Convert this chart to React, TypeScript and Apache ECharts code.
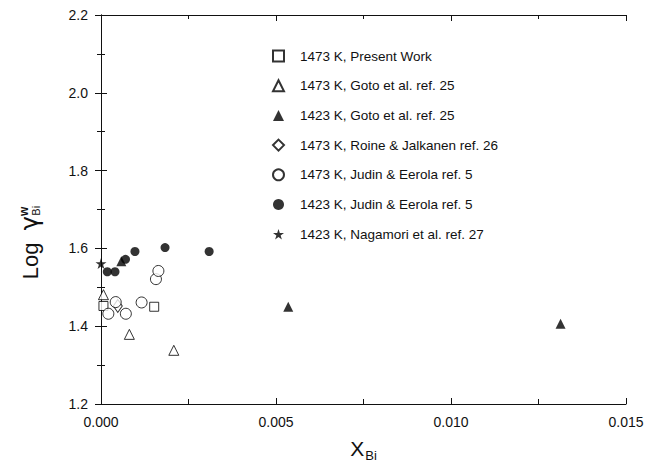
import React, { useEffect, useRef } from "react";
import * as echarts from "echarts";

const seriesNames = [
  "1473 K, Present Work",
  "1473 K, Goto et al. ref. 25",
  "1423 K, Goto et al. ref. 25",
  "1473 K, Roine & Jalkanen ref. 26",
  "1473 K, Judin & Eerola ref. 5",
  "1423 K, Judin & Eerola ref. 5",
  "1423 K, Nagamori et al. ref. 27",
];

const presentWork = [
  [0.00007, 1.452],
  [0.00152, 1.45],
];
const goto1473 = [
  [0.00007, 1.481],
  [0.00081, 1.379],
  [0.00208, 1.338],
];
const goto1423 = [
  [0.00058, 1.567],
  [0.00535, 1.45],
  [0.01313, 1.406],
];
const roine1473 = [[0.00048, 1.452]];
const judin1473 = [
  [0.00021, 1.432],
  [0.00042, 1.462],
  [0.00071, 1.432],
  [0.00116, 1.461],
  [0.00157, 1.521],
  [0.00164, 1.542],
];
const judin1423 = [
  [0.00018, 1.54],
  [0.0004, 1.54],
  [0.0007, 1.572],
  [0.00097, 1.592],
  [0.00183, 1.602],
  [0.00309, 1.592],
];
const nagamori1423 = [[0.0, 1.561]];

const STAR =
  "path://M50,0 L61.8,36.2 L100,36.2 L69.1,58.8 L80.9,95.1 L50,72.4 L19.1,95.1 L30.9,58.8 L0,36.2 L38.2,36.2 Z";

const open = { color: "#fff", borderColor: "#000", borderWidth: 1 };
const filled = { color: "#000", borderColor: "#000", borderWidth: 0 };

export default function App() {
  const ref = useRef<HTMLDivElement>(null);
  useEffect(() => {
    if (!ref.current) return;
    const chart = echarts.init(ref.current, null, { renderer: "svg" });
    const font = "Liberation Sans";
    const mk = (name: string, data: number[][], symbol: string, size: any, style: any) => ({
      name,
      type: "scatter",
      data,
      symbol,
      symbolSize: size,
      itemStyle: style,
      emphasis: { disabled: true },
    });
    const axisCommon = {
      axisLine: { show: true, lineStyle: { color: "#111", width: 1 } },
      axisTick: { show: true, inside: true, length: 6, lineStyle: { color: "#111" } },
      minorTick: { show: true, splitNumber: 2, length: 4, lineStyle: { color: "#111" } },
      splitLine: { show: false },
    };
    chart.setOption({
      animation: false,
      backgroundColor: "#fff",
      grid: { left: 101, right: 28, top: 15, bottom: 52, containLabel: false },
      xAxis: [
        {
          type: "value",
          min: 0,
          max: 0.015,
          interval: 0.005,
          ...axisCommon,
          minorTick: { show: true, splitNumber: 2, length: 5, lineStyle: { color: "#111" } },
          axisLabel: {
            color: "#111",
            fontSize: 14,
            fontFamily: "Liberation Sans",
            margin: 11,
            formatter: (v: number) => v.toFixed(3),
          },
          name: "{x|X}{s|Bi}",
          nameLocation: "middle",
          nameGap: 31,
          nameTextStyle: {
            rich: {
              x: { fontSize: 21, fontFamily: "Liberation Sans", color: "#111" },
              s: { fontSize: 13, fontFamily: "Liberation Sans", color: "#111", padding: [14, 0, 0, 1] },
            },
          },
        },
        {
          type: "value",
          position: "top",
          min: 0,
          max: 0.015,
          interval: 0.005,
          ...axisCommon,
          axisLabel: { show: false },
        },
      ],
      yAxis: [
        {
          type: "value",
          min: 1.2,
          max: 2.2,
          interval: 0.2,
          ...axisCommon,
          axisLabel: {
            color: "#111",
            fontSize: 14,
            fontFamily: "Liberation Sans",
            margin: 13,
            formatter: (v: number) => v.toFixed(1),
          },
          name: "{l|Log  }{g|γ}{w|w}{s|Bi}",
          nameLocation: "middle",
          nameGap: 59,
          nameRotate: 90,
          nameTextStyle: {
            rich: {
              l: { fontSize: 22, fontFamily: "Liberation Sans", color: "#111" },
              g: { fontSize: 24, fontFamily: "DejaVu Sans", color: "#111" },
              w: { fontSize: 12, fontWeight: "bold", fontFamily: "Liberation Sans", color: "#111", padding: [0, 0, 12, 0] },
              s: { fontSize: 11, fontFamily: "Liberation Sans", color: "#111", padding: [12, 66, 0, -9] },
            },
          },
        },
        {
          type: "value",
          position: "right",
          min: 1.2,
          max: 2.2,
          interval: 0.2,
          ...axisCommon,
          axisLabel: { show: false },
        },
      ],
      legend: {
        orient: "vertical",
        left: 267,
        top: 44,
        itemWidth: 11,
        itemHeight: 11,
        itemGap: 15.7,
        selectedMode: false,
        textStyle: { fontFamily: font, fontSize: 13.5, color: "#111", lineHeight: 14, padding: [0, 0, 0, 11] },
        data: seriesNames,
      },
      series: [
        mk(seriesNames[0], presentWork, "rect", 9, open),
        mk(seriesNames[1], goto1473, "triangle", 10, open),
        mk(seriesNames[2], goto1423, "triangle", 10, filled),
        mk(seriesNames[3], roine1473, "diamond", [9, 13], open),
        mk(seriesNames[4], judin1473, "circle", 11, open),
        mk(seriesNames[5], judin1423, "circle", 9, filled),
        mk(seriesNames[6], nagamori1423, STAR, 11, filled),
      ],
    });
    return () => chart.dispose();
  }, []);
  return <div ref={ref} style={{ width: 654, height: 467, position: "absolute", left: 0, top: 0 }} />;
}
